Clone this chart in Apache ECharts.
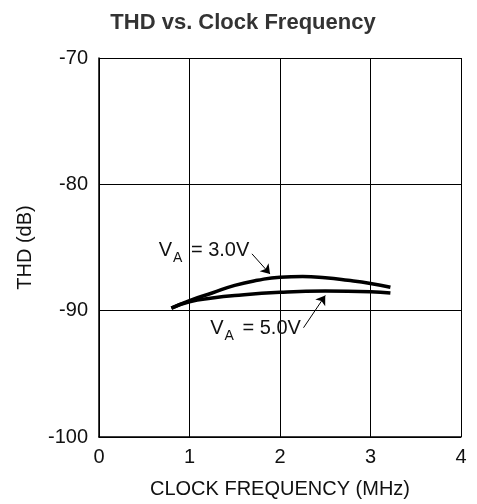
<!DOCTYPE html>
<html>
<head>
<meta charset="utf-8">
<script src="https://cdn.jsdelivr.net/npm/echarts@6/dist/echarts.min.js"></script>
<style>
  html, body { margin: 0; padding: 0; background: #fff; }
  #chart { width: 477px; height: 504px; }
</style>
</head>
<body>
<div id="chart"></div>
<script>
// values
const freq30 = [0.8, 1.0, 1.25, 1.5, 1.75, 2.0, 2.25, 2.5, 2.75, 3.0, 3.22]
const thd30 = [-89.8, -89.2, -88.6, -88.0, -87.6, -87.35, -87.3, -87.4, -87.6, -87.85, -88.15]
const freq50 = [0.8, 1.0, 1.25, 1.5, 2.0, 2.5, 3.0, 3.22]
const thd50 = [-89.8, -89.3, -89.0, -88.8, -88.55, -88.45, -88.5, -88.6]

const pairs = (xs, ys) => xs.map((x, i) => [x, ys[i]])

const font = 'Liberation Sans, Arial, Helvetica, sans-serif'

const chart = echarts.init(document.getElementById('chart'))

const labelRich = {
  v: { fontSize: 20, color: '#111', fontFamily: font },
  s: { fontSize: 14, color: '#111', fontFamily: font, padding: [14, 3, 0, 1] }
}

function annotation(text, coord) {
  return {
    symbol: 'circle',
    symbolSize: 0,
    silent: true,
    label: {
      show: true,
      position: 'inside',
      formatter: text,
      rich: labelRich
    },
    data: [{ coord: coord }]
  }
}

function arrow(from, to) {
  return {
    silent: true,
    symbolSize: 9,
    label: { show: false },
    lineStyle: { color: '#000', width: 1, type: 'solid' },
    data: [[
      { coord: from, symbol: 'none' },
      { coord: to, symbol: 'arrow' }
    ]]
  }
}

const option = {
  animation: false,
  backgroundColor: '#fff',
  title: {
    text: 'THD vs. Clock Frequency',
    left: 238,
    top: 7,
    textAlign: 'center',
    textStyle: { fontFamily: font, fontSize: 22, fontWeight: 'bold', color: '#333' }
  },
  grid: { left: 99, right: 16, top: 58, bottom: 67, outerBoundsMode: 'none', containLabel: false },
  xAxis: {
    type: 'value',
    min: 0,
    max: 4,
    interval: 1,
    name: 'CLOCK FREQUENCY (MHz)',
    nameLocation: 'middle',
    nameGap: 42,
    nameTextStyle: { fontFamily: font, fontSize: 20, color: '#111' },
    axisLine: { lineStyle: { color: '#000', width: 1.5 } },
    axisTick: { show: false },
    axisLabel: { fontFamily: font, fontSize: 20, color: '#111', margin: 10 },
    splitLine: { lineStyle: { color: '#000', width: 1 } }
  },
  yAxis: {
    type: 'value',
    min: -100,
    max: -70,
    interval: 10,
    name: 'THD (dB)',
    nameLocation: 'middle',
    nameGap: 64,
    nameTextStyle: { fontFamily: font, fontSize: 20, color: '#111' },
    axisLine: { show: true, lineStyle: { color: '#000', width: 1.5 } },
    axisTick: { show: false },
    axisLabel: { fontFamily: font, fontSize: 20, color: '#111', margin: 11 },
    splitLine: { lineStyle: { color: '#000', width: 1 } }
  },
  series: [
    {
      name: 'VA = 3.0V',
      type: 'line',
      smooth: true,
      symbol: 'none',
      data: pairs(freq30, thd30),
      lineStyle: { color: '#000', width: 3.5 },
      markPoint: annotation('{v|V}{s|A}{v| = 3.0V}', [1.16, -85.25]),
      markLine: arrow([1.69, -85.5], [1.89, -87.1])
    },
    {
      name: 'VA = 5.0V',
      type: 'line',
      smooth: true,
      symbol: 'none',
      data: pairs(freq50, thd50),
      lineStyle: { color: '#000', width: 3.5 },
      markPoint: annotation('{v|V}{s|A}{v| = 5.0V}', [1.73, -91.43]),
      markLine: arrow([2.26, -91.35], [2.5, -88.8])
    }
  ]
}

chart.setOption(option)
</script>
</body>
</html>
